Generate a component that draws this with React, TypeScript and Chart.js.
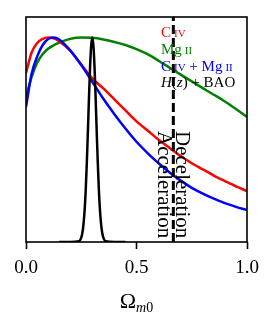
import React, { useEffect, useRef } from "react";
import { Chart, registerables } from "chart.js";

Chart.register(...registerables);

// ---- data ----
const omegaGrid = [0, 0.025, 0.05, 0.075, 0.1, 0.125, 0.15, 0.2, 0.25, 0.3, 0.35, 0.4, 0.45, 0.5, 0.55, 0.6, 0.65, 0.7, 0.75, 0.8, 0.85, 0.9, 0.95, 1.0];
const civLikelihood = [0.825, 0.925, 0.972, 0.993, 1.0, 0.996, 0.982, 0.935, 0.868, 0.8, 0.751, 0.697, 0.643, 0.59, 0.545, 0.5, 0.46, 0.42, 0.385, 0.355, 0.325, 0.298, 0.272, 0.249];
const mgiiLikelihood = [0.71, 0.805, 0.875, 0.918, 0.945, 0.962, 0.975, 0.993, 1.0, 0.998, 0.99, 0.978, 0.963, 0.943, 0.918, 0.886, 0.852, 0.818, 0.785, 0.752, 0.72, 0.687, 0.65, 0.611];
const combinedLikelihood = [0.66, 0.82, 0.905, 0.962, 0.992, 1.0, 0.99, 0.937, 0.865, 0.783, 0.7, 0.625, 0.555, 0.49, 0.435, 0.385, 0.34, 0.3, 0.265, 0.237, 0.212, 0.19, 0.172, 0.156];
const hzBaoOmega = [0.15, 0.2, 0.24, 0.25, 0.255, 0.26, 0.265, 0.27, 0.275, 0.28, 0.285, 0.29, 0.295, 0.3, 0.305, 0.31, 0.315, 0.32, 0.325, 0.33, 0.335, 0.34, 0.345, 0.35, 0.36, 0.4, 0.45];
const hzBaoLikelihood = [0, 0, 0.004, 0.021, 0.044, 0.085, 0.151, 0.249, 0.381, 0.539, 0.707, 0.857, 0.962, 1.0, 0.962, 0.857, 0.707, 0.539, 0.381, 0.249, 0.151, 0.085, 0.044, 0.021, 0.004, 0, 0];
const transitionOmega = 2 / 3;
const yRange = [0, 1.1];
const xTickValues = [0, 0.5, 1];
const xTickLabels = ["0.0", "0.5", "1.0"];

const legendRows = [
  { color: "#ff0000", segs: [["C", "rm"], ["IV", "sc"]] },
  { color: "#008000", segs: [["Mg", "rm"], ["II", "sc"]] },
  { color: "#0000ff", segs: [["C", "rm"], ["IV", "sc"], [" + Mg", "rm"], ["II", "sc"]] },
  { color: "#000000", segs: [["H", "it"], ["(", "rm"], ["z", "it"], [")", "rm"], [" + BAO", "rm"]] },
];

const SERIF = '"Liberation Serif", "Times New Roman", serif';

const toPoints = (xs: number[], ys: number[]) => xs.map((x, i) => ({ x, y: ys[i] }));

const overlayPlugin = {
  id: "overlay",
  afterDraw(chart: any) {
    const { ctx, chartArea: a, scales } = chart;
    ctx.save();
    // frame
    ctx.strokeStyle = "#000";
    ctx.lineWidth = 1.6;
    ctx.strokeRect(a.left, a.top, a.right - a.left, a.bottom - a.top);

    // rotated labels by the transition line
    const xT = scales.x.getPixelForValue(transitionOmega);
    ctx.fillStyle = "#000";
    ctx.font = `21px ${SERIF}`;
    ctx.textAlign = "left";
    ctx.textBaseline = "alphabetic";
    const rot = (txt: string, x: number, y: number) => {
      ctx.save();
      ctx.translate(x, y);
      ctx.rotate(Math.PI / 2);
      ctx.fillText(txt, 0, 0);
      ctx.restore();
    };
    rot("Deceleration", xT + 3, a.top + 114);
    rot("Acceleration", xT - 15, a.top + 114);

    // legend (text only)
    const lx = a.right - 86;
    const baselines = [a.top + 20, a.top + 37, a.top + 54, a.top + 70];
    legendRows.forEach((row, r) => {
      let x = lx;
      ctx.fillStyle = row.color;
      row.segs.forEach(([t, s]) => {
        if (s === "sc") {
          ctx.font = `11px ${SERIF}`;
          x += 3;
        } else if (s === "it") ctx.font = `italic 15px ${SERIF}`;
        else ctx.font = `15px ${SERIF}`;
        ctx.fillText(t, x, baselines[r]);
        x += ctx.measureText(t).width;
      });
    });

    // x-axis title
    ctx.fillStyle = "#000";
    const cx = (a.left + a.right) / 2;
    ctx.font = `22px ${SERIF}`;
    const wO = ctx.measureText("\u03A9").width;
    ctx.font = `italic 14px ${SERIF}`;
    const wm = ctx.measureText("m").width;
    ctx.font = `14px ${SERIF}`;
    const w0 = ctx.measureText("0").width;
    let tx = cx - (wO + wm + w0) / 2;
    ctx.font = `22px ${SERIF}`;
    ctx.fillText("\u03A9", tx, 308);
    tx += wO;
    ctx.font = `italic 14px ${SERIF}`;
    ctx.fillText("m", tx, 311.5);
    tx += wm;
    ctx.font = `14px ${SERIF}`;
    ctx.fillText("0", tx, 311.5);
    ctx.restore();
  },
};

export default function App() {
  const ref = useRef<HTMLCanvasElement | null>(null);
  useEffect(() => {
    if (!ref.current) return;
    const line = (color: string, width: number, data: any[]) => ({
      data,
      borderColor: color,
      borderWidth: width,
      pointRadius: 0,
      fill: false,
      cubicInterpolationMode: "monotone" as const,
    });
    const chart = new Chart(ref.current, {
      type: "line",
      data: {
        datasets: [
          {
            data: [
              { x: transitionOmega, y: yRange[0] },
              { x: transitionOmega, y: yRange[1] },
            ],
            borderColor: "#000",
            borderWidth: 3,
            borderDash: [9, 4],
            pointRadius: 0,
          },
          line("#000000", 2.5, toPoints(hzBaoOmega, hzBaoLikelihood)),
          line("#0000ff", 2.5, toPoints(omegaGrid, combinedLikelihood)),
          line("#ff0000", 2.5, toPoints(omegaGrid, civLikelihood)),
          line("#008000", 2.5, toPoints(omegaGrid, mgiiLikelihood)),
        ] as any,
      },
      options: {
        responsive: false,
        animation: false,
        layout: { padding: { left: 26, right: 27, top: 17, bottom: 0 } },
        plugins: { legend: { display: false }, tooltip: { enabled: false } },
        scales: {
          x: {
            type: "linear",
            min: 0,
            max: 1,
            afterBuildTicks: (s: any) => {
              s.ticks = xTickValues.map((v) => ({ value: v }));
            },
            afterFit: (s: any) => {
              s.height = 90;
            },
            ticks: {
              callback: (_v: any, i: number) => xTickLabels[i],
              font: { family: SERIF, size: 19 },
              color: "#000",
              padding: 8,
              maxRotation: 0,
              autoSkip: false,
            },
            grid: { drawOnChartArea: false, tickLength: 7, tickWidth: 1.6, tickColor: "#000" },
            border: { display: false },
          },
          y: { display: false, min: yRange[0], max: yRange[1] },
        },
      } as any,
      plugins: [overlayPlugin],
    });
    return () => chart.destroy();
  }, []);
  return (
    <div style={{ position: "fixed", left: 0, top: 0, width: 274, height: 332, background: "#fff" }}>
      <canvas ref={ref} width={274} height={332} style={{ display: "block" }} />
    </div>
  );
}
